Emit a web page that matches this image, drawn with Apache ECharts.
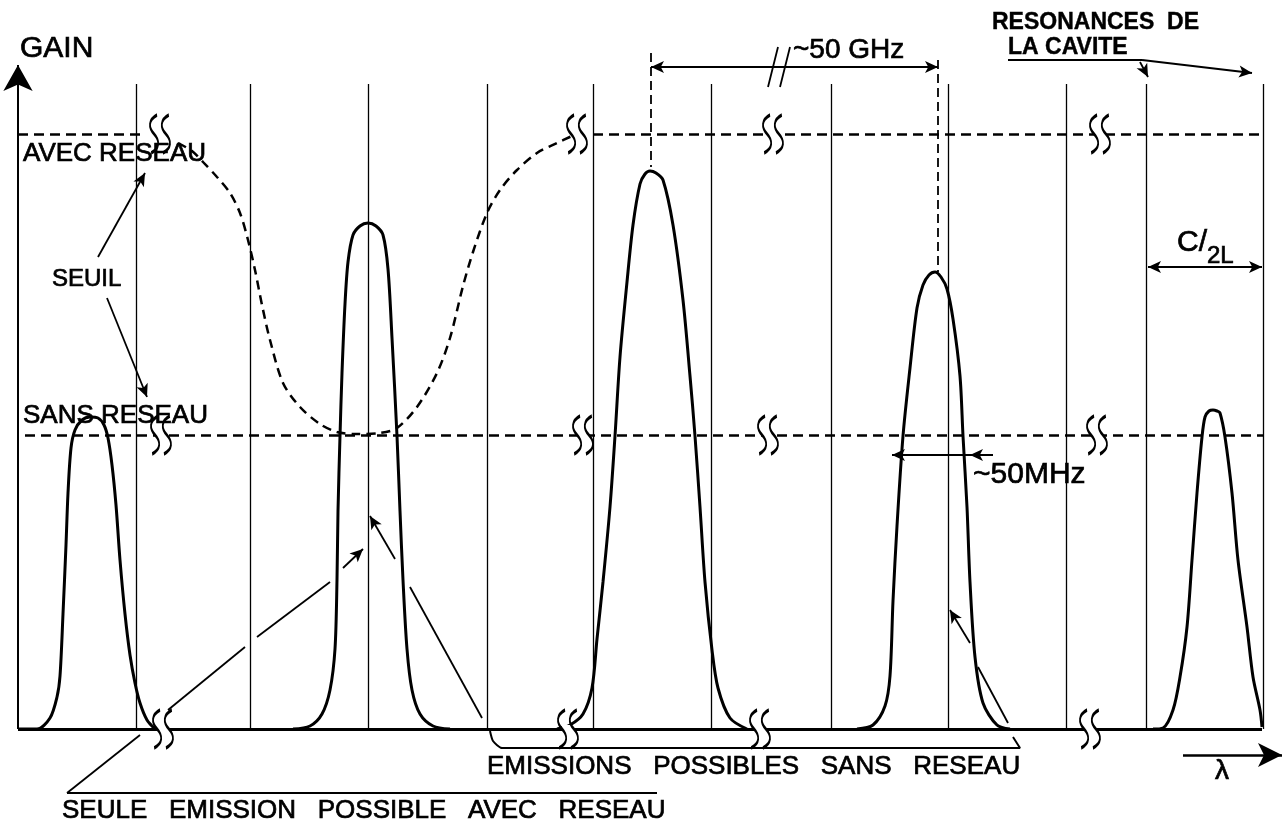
<!DOCTYPE html>
<html><head><meta charset="utf-8">
<script src="https://cdn.jsdelivr.net/npm/echarts@6/dist/echarts.min.js"></script>
<style>html,body{margin:0;padding:0;background:#fff}#c{width:1282px;height:826px}</style>
</head><body><div id="c"></div>
<script>
// Units: x = relative wavelength (arbitrary units), y = gain (arbitrary units)
const cavityModes = [118, 232, 350, 469, 575, 693, 813, 930, 1048, 1128, 1245];
const modeLineTop = 645;
const axisTop = 664;
const baselineEnd = 1244;
const thresholdWithGrating = 595;     // SEUIL AVEC RESEAU
const thresholdWithoutGrating = 294;  // SEUIL SANS RESEAU
const withGratingSegments = [[0, 127], [575, 1245]];
const withoutGratingSegments = [[7, 1245]];

// gain of the longitudinal emission modes
const peak1 = [[0,0],[19,0],[32,11],[39,32],[42,53],[45,115],[48,184],[50,236],[53,281],[57,299],[64,309],[72,312],[80,311],[86,304],[90,291],[94,264],[98,224],[102,169],[107,115],[112,74],[117,46],[122,26],[129,9],[137,0]];
const peak2 = [[275,0],[292,3],[304,15],[312,39],[317,80],[319,149],[320,218],[322,293],[324,356],[327,425],[330,467],[335,494],[342,503],[350,506],[358,503],[365,494],[370,460],[374,391],[379,293],[382,218],[385,149],[389,80],[394,39],[402,15],[415,3],[432,0]];
const peak3 = [[539,0],[552,4],[565,15],[574,41],[579,90],[585,147],[592,222],[597,293],[602,372],[609,447],[615,504],[622,545],[627,555],[632,558],[638,556],[645,549],[655,504],[665,429],[672,353],[677,293],[682,222],[687,147],[694,79],[700,41],[712,11],[729,0]];
const peak4 = [[839,0],[855,4],[867,23],[872,53],[875,128],[879,203],[885,293],[892,361],[899,421],[905,444],[911,454],[917,457],[923,452],[929,440],[935,410],[942,353],[945,293],[949,222],[952,147],[957,72],[965,26],[979,4],[992,0]];
const peak5 = [[1135,0],[1145,1],[1155,19],[1162,52],[1169,102],[1174,169],[1179,236],[1184,292],[1187,312],[1191,318],[1195,319],[1199,318],[1202,316],[1207,292],[1214,236],[1220,169],[1229,102],[1235,52],[1242,19],[1244,2]];
// threshold with the grating (dashed curve)
const gratingThreshold = [[160,586],[174,578],[185,567],[199,552],[212,536],[222,516],[230,489],[237,459],[244,424],[252,389],[265,346],[282,322],[302,305],[319,297],[337,295],[362,296],[379,301],[399,322],[419,356],[432,391],[445,443],[455,477],[469,516],[482,539],[499,559],[519,576],[539,586],[554,593]];
// axis break marks
const breaksWithGrating = [142, 559, 755, 1082];
const breaksWithoutGrating = [143, 565, 750, 1079];
const breaksBaseline = [145, 550, 742, 1072];

const FONT = "'Liberation Sans', Arial, sans-serif";
const INK = '#000';

// annotation texts: [x, y, text, fontSize, bold]
const texts = [
  [2, 680, 'GAIN', 30, false],
  [5, 575, 'AVEC RESEAU', 26, false],
  [34, 450, 'SEUIL', 24, false],
  [5, 313, 'SANS RESEAU', 26, false],
  [775, 679, '~50 GHz', 28, false],
  [974, 706, 'RESONANCES  DE', 23, true],
  [990, 681, 'LA CAVITE', 23, true],
  [955, 254, '~50MHz', 30, false],
  [1159, 486, 'C/', 30, false],
  [1189, 473, '2L', 24, false],
  [469, -38, 'EMISSIONS   POSSIBLES   SANS   RESEAU', 26, false],
  [44, -82, 'SEULE   EMISSION   POSSIBLE   AVEC   RESEAU', 26, false],
  [1197, -42, 'λ', 28, false]
];

// annotation lines / arrows
const annot = [
  {from:[0,0], to:[baselineEnd,0], w:3},
  {from:[0,0], to:[0,axisTop], end:'arrow', w:2, head:[22,26]},
  {from:[80,472], to:[127,556], end:'arrow'},
  {from:[89,431], to:[129,332], end:'arrow'},
  {from:[633,662], to:[920,662], start:'arrow', end:'arrow'},
  {from:[750,642], to:[760,682]},
  {from:[762,642], to:[772,682]},
  {from:[633,676], to:[633,562], dash:true},
  {from:[920,669], to:[920,457], dash:true},
  {from:[975,274], to:[874,274], end:'arrow'},
  {from:[975,274], to:[952,274], end:'arrow'},
  {from:[49,-64], to:[122,-6]},
  {from:[150,19], to:[227,82]},
  {from:[239,92], to:[312,147]},
  {from:[325,161], to:[345,180], end:'arrow'},
  {from:[464,11], to:[392,142]},
  {from:[377,170], to:[352,213], end:'arrow'},
  {from:[990,6], to:[960,62]},
  {from:[952,86], to:[932,119], end:'arrow'},
  {from:[49,-64], to:[639,-64]},
  {from:[990,669], to:[1124,669]},
  {from:[1124,669], to:[1234,656], end:'arrow'},
  {from:[1122,667], to:[1130,652], end:'arrow'},
  {from:[1130,462], to:[1244,462], start:'arrow', end:'arrow'},
  {from:[1165,-26], to:[1264,-26], end:'arrow', w:2.5, head:[18,24]}
];
const bracket = [[472,-2],[475,-12],[484,-19],[1002,-19],[995,-8]];

const breakPath = 'path://M7,0C1,5 1,13 5,20C9,27 9,35 3,40M15,0C9,5 9,13 13,20C17,27 17,35 11,40';
const allBreaks = [].concat(
  breaksWithGrating.map(x => [x, thresholdWithGrating]),
  breaksWithoutGrating.map(x => [x, thresholdWithoutGrating]),
  breaksBaseline.map(x => [x, 0])
);

function peakSeries(name, data) {
  return {
    name, type: 'line', data, showSymbol: false, smooth: 0.3, silent: true, clip: false, z: 4,
    lineStyle: { color: INK, width: 3 }
  };
}

const hiddenAxis = {
  type: 'value', axisLine: { show: false }, axisTick: { show: false },
  axisLabel: { show: false }, splitLine: { show: false }
};

const option = {
  animation: false,
  backgroundColor: '#fff',
  grid: { left: 0, right: 0, top: 0, bottom: 0, containLabel: false },
  xAxis: Object.assign({}, hiddenAxis, { min: -18, max: 1264 }),
  yAxis: Object.assign({}, hiddenAxis, { min: -97, max: 729 }),
  series: [
    {
      name: 'modes', type: 'line', data: [], silent: true, z: 2,
      markLine: {
        silent: true, symbol: ['none', 'none'], label: { show: false },
        lineStyle: { color: INK, width: 1.3, type: 'solid' },
        data: cavityModes.map(x => [{ coord: [x, 0] }, { coord: [x, modeLineTop] }])
      }
    },
    {
      name: 'thresholds', type: 'line', data: [], silent: true, z: 3,
      markLine: {
        silent: true, symbol: ['none', 'none'], label: { show: false },
        lineStyle: { color: INK, width: 2.5, type: [10, 6] },
        data: [].concat(
          withGratingSegments.map(s => [{ coord: [s[0], thresholdWithGrating] }, { coord: [s[1], thresholdWithGrating] }]),
          withoutGratingSegments.map(s => [{ coord: [s[0], thresholdWithoutGrating] }, { coord: [s[1], thresholdWithoutGrating] }])
        )
      }
    },
    {
      name: 'gratingThreshold', type: 'line', data: gratingThreshold, showSymbol: false, smooth: 0.3,
      silent: true, clip: false, z: 3, lineStyle: { color: INK, width: 2.5, type: [9, 6] }
    },
    peakSeries('peak1', peak1),
    peakSeries('peak2', peak2),
    peakSeries('peak3', peak3),
    peakSeries('peak4', peak4),
    peakSeries('peak5', peak5),
    {
      name: 'bracket', type: 'line', data: bracket, showSymbol: false, smooth: 0.2, clip: false,
      silent: true, z: 4, lineStyle: { color: INK, width: 2 }
    },
    {
      name: 'annotations', type: 'line', data: [], silent: true, clip: false, z: 5,
      markLine: {
        silent: true, symbol: ['none', 'none'], label: { show: false },
        lineStyle: { color: INK, width: 1.8, type: 'solid' },
        data: annot.map(a => {
          const sz = a.head || [9, 13];
          const ls = { color: INK, width: a.w || 1.8, type: a.dash ? [9, 5] : 'solid' };
          return [
            { coord: a.from, symbol: a.start || 'none', symbolSize: sz, lineStyle: ls },
            { coord: a.to, symbol: a.end || 'none', symbolSize: sz, lineStyle: ls }
          ];
        })
      }
    },
    {
      name: 'breakGaps', type: 'scatter', data: allBreaks, symbol: 'rect', symbolSize: [12, 8],
      silent: true, clip: false, z: 6, itemStyle: { color: '#fff', opacity: 1 }
    },
    {
      name: 'breaks', type: 'scatter', data: allBreaks, symbol: breakPath, symbolSize: [20, 38],
      symbolKeepAspect: false, silent: true, clip: false, z: 7,
      itemStyle: { color: 'none', borderColor: INK, borderWidth: 2.5, opacity: 1 }
    },
    {
      name: 'labels', type: 'scatter', silent: true, clip: false, z: 8,
      symbolSize: 0, itemStyle: { color: 'transparent' },
      data: texts.map(t => ({
        value: [t[0], t[1]],
        label: {
          show: true, position: 'right', distance: 0, formatter: t[2],
          fontFamily: FONT, fontSize: t[3], fontWeight: t[4] ? 'bold' : 'normal', color: INK,
          textBorderColor: INK, textBorderWidth: t[4] ? 0.4 : 0.7, opacity: 1
        }
      }))
    }
  ]
};

const chart = echarts.init(document.getElementById('c'), null, { renderer: 'canvas' });
chart.setOption(option);
</script>
</body></html>
